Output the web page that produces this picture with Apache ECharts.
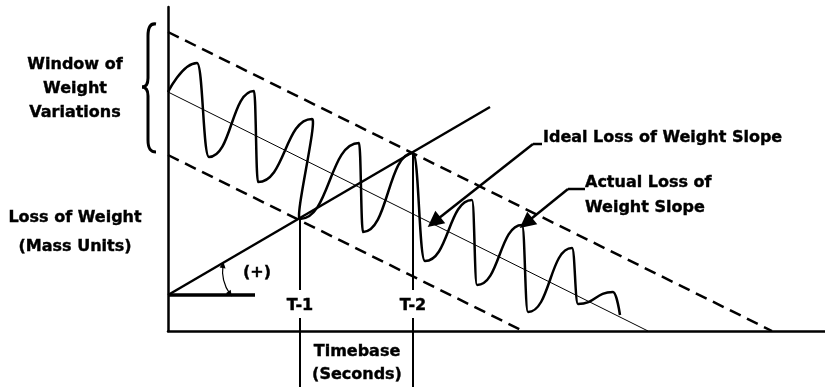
<!DOCTYPE html>
<html>
<head>
<meta charset="utf-8">
<style>
html, body { margin: 0; padding: 0; background: #fff; }
#chart { width: 825px; height: 387px; }
</style>
<script src="https://cdn.jsdelivr.net/npm/echarts@6/dist/echarts.min.js"></script>
</head>
<body>
<div id="chart"></div>
<script>
// time runs 0..657, mass 0..324 (units)
var timeRange = [0, 657];
var massRange = [0, 324];

// actual weight trace: start, then alternating peaks / troughs
var actualSlope = [
  [0, 239], [29, 268], [41, 174], [86, 240], [90, 149], [144, 212], [132, 112],
  [191, 188], [195, 99], [245, 178], [257, 70], [304, 131], [309, 46],
  [354, 106], [360, 19], [404, 83], [410, 27], [445, 39], [452, 16]
];
var idealSlope = [[0, 239], [480, 0]];
var upperLimit = [[0, 299], [604, 0]];
var lowerLimit = [[0, 176], [355, 0]];
var risingLine = [[0, 36], [322, 224]];
var baseLine = [[0, 36], [87, 36]];

var t1 = 132, t2 = 245;
var tMarkers = [
  [[t1, 113], [t1, 41]], [[t1, 13], [t1, -56]],
  [[t2, 179], [t2, 41]], [[t2, 13], [t2, -56]]
];
var tLabels = ['T-1', 'T-2'];

// leader: label end, elbow, arrow tip
var idealArrow = [[374, 187], [365, 187], [266, 109]];
var actualArrow = [[417, 142], [400, 142], [358, 108]];
var angleArc = [[55, 66], [62, 37]];

var font = 'bold 16px "DejaVu Sans", sans-serif';
var black = '#000';

function seg(data, width, dash) {
  return {
    type: 'line', data: data, symbol: 'none', silent: true, clip: false,
    lineStyle: { color: black, width: width, type: dash || 'solid' }
  };
}

var series = [
  seg(upperLimit, 2.5, [12, 7]),
  seg(lowerLimit, 2.5, [12, 7]),
  seg(idealSlope, 1),
  seg(risingLine, 2.5),
  seg(baseLine, 3.5),
  {
    type: 'line', data: actualSlope, symbol: 'none', silent: true,
    smooth: 0.5, smoothMonotone: 'x',
    lineStyle: { color: black, width: 2.5 }
  }
];
tMarkers.forEach(function (m) { series.push(seg(m, 2)); });
[idealArrow, actualArrow].forEach(function (a) { series.push(seg([a[0], a[1]], 2.5)); });

series.push({
  type: 'lines', coordinateSystem: 'cartesian2d', silent: true,
  symbol: ['none', 'triangle'], symbolSize: 16,
  lineStyle: { color: black, width: 2.5, opacity: 1 },
  itemStyle: { color: black },
  data: [{ coords: [idealArrow[1], idealArrow[2]] }, { coords: [actualArrow[1], actualArrow[2]] }]
});
series.push({
  type: 'lines', coordinateSystem: 'cartesian2d', silent: true,
  symbol: ['triangle', 'triangle'], symbolSize: 6,
  lineStyle: { color: black, width: 1.2, curveness: -0.2, opacity: 1 },
  data: [{ coords: angleArc }]
});

var chart = echarts.init(document.getElementById('chart'));
chart.setOption({
  animation: false,
  backgroundColor: '#fff',
  grid: { left: 168, right: 0, top: 7, bottom: 56 },
  xAxis: {
    type: 'value', min: timeRange[0], max: timeRange[1],
    axisLine: { onZero: false, lineStyle: { color: black, width: 2.5 } },
    axisTick: { show: false }, axisLabel: { show: false }, splitLine: { show: false }
  },
  yAxis: {
    type: 'value', min: massRange[0], max: massRange[1],
    axisLine: { show: true, onZero: false, lineStyle: { color: black, width: 2.5 } },
    axisTick: { show: false }, axisLabel: { show: false }, splitLine: { show: false }
  },
  series: series
});

function px(p) { return chart.convertToPixel({ gridIndex: 0 }, p); }
function label(text, p, align, lh) {
  return {
    type: 'text', x: p[0], y: p[1], silent: true,
    style: {
      text: text, fill: black, font: font, align: align || 'center', verticalAlign: 'middle',
      lineHeight: lh || 20, stroke: black, lineWidth: 0.4
    }
  };
}
function curve(x1, y1, cx1, cy1, cx2, cy2, x2, y2) {
  return {
    type: 'bezierCurve', silent: true,
    shape: { x1: x1, y1: y1, cpx1: cx1, cpy1: cy1, cpx2: cx2, cpy2: cy2, x2: x2, y2: y2 },
    style: { fill: null, stroke: black, lineWidth: 3 }
  };
}

var graphics = [
  label('Window of\nWeight\nVariations', [75, 89], 'center', 24),
  label('Loss of Weight\n(Mass Units)', [75, 232], 'center', 29),
  label('Timebase\n(Seconds)', [357, 363], 'center', 23),
  label('Ideal Loss of Weight Slope', [543, 138], 'left'),
  label('Actual Loss of\nWeight Slope', [585, 195], 'left', 25),
  label('(+)', [257, 273], 'center'),
  // curly brace
  curve(156, 24, 150, 23, 148, 28, 148, 36),
  curve(148, 36, 148, 50, 148, 65, 148, 78),
  curve(148, 78, 148, 84, 146, 87, 142, 87),
  curve(142, 87, 146, 87, 148, 90, 148, 96),
  curve(148, 96, 148, 110, 148, 125, 148, 140),
  curve(148, 140, 148, 148, 150, 152, 156, 152)
];
tLabels.forEach(function (t, i) {
  var p = px([i === 0 ? t1 : t2, 0]);
  graphics.push(label(t, [p[0], 306], 'center'));
});
chart.setOption({ graphic: graphics });
</script>
</body>
</html>
